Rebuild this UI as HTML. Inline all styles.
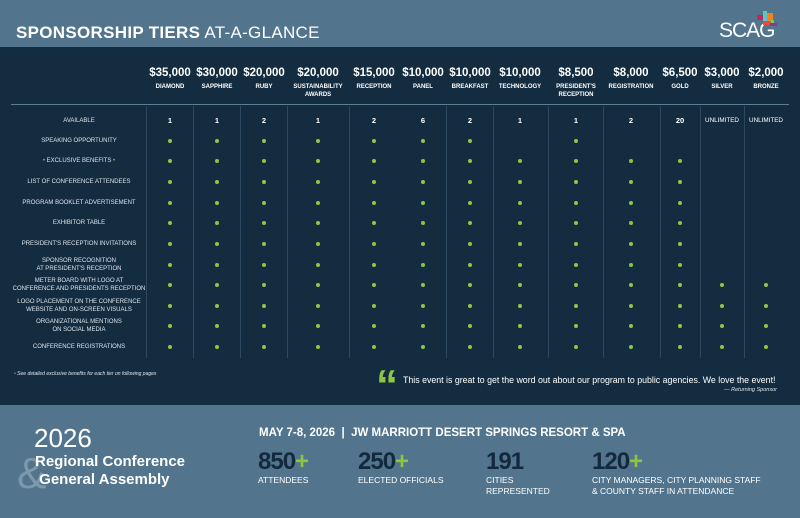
<!DOCTYPE html>
<html><head><meta charset="utf-8"><style>
*{margin:0;padding:0;box-sizing:border-box}
body{width:800px;height:518px;position:relative;overflow:hidden;background:#52758d;font-family:"Liberation Sans",sans-serif;color:#fff}
.abs{position:absolute}
.dark{left:0;top:47px;width:800px;height:358px;background:#132c40}
.c{position:absolute;text-align:center;transform:translateX(-50%);white-space:nowrap}
.price{font-weight:bold;font-size:11.5px;top:67px}
.name{font-weight:bold;font-size:6px;top:83px;line-height:8px}
.lab{font-size:6px;line-height:8px;color:#dde4ea}
.num{font-weight:bold;font-size:7.5px}
.dot{position:absolute;width:4px;height:4px;border-radius:50%;background:#8dc63f}
.vl{position:absolute;top:106px;width:1px;height:252px;background:#2b4a62}
.stat{position:absolute;font-weight:bold;font-size:24px;color:#13293d;top:448px;letter-spacing:-1px}
.stat b{color:#8dc63f}
.sl{position:absolute;font-size:8.5px;top:475px;line-height:11px;color:#fff}
</style></head><body>
<div class="abs" style="left:16px;top:23px;font-size:17px;letter-spacing:0.3px"><b>SPONSORSHIP TIERS</b> <span style="font-weight:normal">AT-A-GLANCE</span></div>
<div class="abs" style="left:719px;top:19px;font-size:21px;letter-spacing:-1px">SCAG</div>
<div class="abs" style="left:757px;top:15px;width:10px;height:5px;background:#c0275d"></div>
<div class="abs" style="left:763px;top:11px;width:4px;height:10px;background:#5fc3d0"></div>
<div class="abs" style="left:767px;top:13px;width:6px;height:8px;background:#f58220"></div>
<div class="abs" style="left:769px;top:20px;width:5px;height:5px;background:#8dc63f"></div>
<div class="abs" style="left:763px;top:21px;width:8px;height:4px;background:#e84b3c"></div>
<div class="abs" style="left:770px;top:23px;width:7px;height:3px;background:#7b3f8c"></div>
<div class="abs dark"></div>
<div class="abs" style="left:11px;top:104px;width:778px;height:1px;background:#5a7d94"></div>
<div id="g"></div>
<div class="abs" style="left:14px;top:371px;font-size:5px;font-style:italic;color:#dde4ea"><span style="color:#8dc63f">•</span> See detailed exclusive benefits for each tier on following pages</div>
<div class="abs" style="left:376px;top:364px;font-size:44px;font-weight:bold;color:#8dc63f;line-height:44px">“</div>
<div class="abs" style="left:403px;top:375px;font-size:8.8px;color:#fff">This event is great to get the word out about our program to public agencies. We love the event!</div>
<div class="abs" style="left:700px;top:387px;width:77px;text-align:right;font-size:5.5px;font-style:italic;color:#dde4ea">— Returning Sponsor</div>
<div class="abs" style="left:17px;top:452px;font-size:44px;color:#7d98ab;line-height:44px">&amp;</div>
<div class="abs" style="left:34px;top:424px;font-size:26px;line-height:28px">2026</div>
<div class="abs" style="left:35px;top:453px;font-size:15px;font-weight:bold;line-height:18px">Regional Conference<br>&nbsp;General Assembly</div>
<div class="abs" style="left:259px;top:427px;font-size:11.5px;font-weight:bold">MAY 7-8, 2026 &nbsp;| &nbsp;JW MARRIOTT DESERT SPRINGS RESORT &amp; SPA</div>
<div class="stat" style="left:258px">850<b>+</b></div>
<div class="stat" style="left:358px">250<b>+</b></div>
<div class="stat" style="left:486px">191</div>
<div class="stat" style="left:592px">120<b>+</b></div>
<div class="sl" style="left:258px">ATTENDEES</div>
<div class="sl" style="left:358px">ELECTED OFFICIALS</div>
<div class="sl" style="left:486px">CITIES<br>REPRESENTED</div>
<div class="sl" style="left:592px">CITY MANAGERS, CITY PLANNING STAFF<br>&amp; COUNTY STAFF IN ATTENDANCE</div>
<script>
var cx=[170,217,264,318,374,423,470,520,576,631,680,722,766];
var pr=["$35,000","$30,000","$20,000","$20,000","$15,000","$10,000","$10,000","$10,000","$8,500","$8,000","$6,500","$3,000","$2,000"];
var nm=["DIAMOND","SAPPHIRE","RUBY","SUSTAINABILITY<br>AWARDS","RECEPTION","PANEL","BREAKFAST","TECHNOLOGY","PRESIDENT'S<br>RECEPTION","REGISTRATION","GOLD","SILVER","BRONZE"];
var av=["1","1","2","1","2","6","2","1","1","2","20","UNLIMITED","UNLIMITED"];
var vx=[146,193,240,287,349,446,493,548,603,660,700,744];
var rows=[["AVAILABLE",120],["SPEAKING OPPORTUNITY",140],["<span style='color:#8dc63f'>•</span> EXCLUSIVE BENEFITS <span style='color:#8dc63f'>•</span>",160],["LIST OF CONFERENCE ATTENDEES",181],["PROGRAM BOOKLET ADVERTISEMENT",202],["EXHIBITOR TABLE",222],["PRESIDENT'S RECEPTION INVITATIONS",243],["SPONSOR RECOGNITION<br>AT PRESIDENT'S RECEPTION",264],["METER BOARD WITH LOGO AT<br>CONFERENCE AND PRESIDENTS RECEPTION",284],["LOGO PLACEMENT ON THE CONFERENCE<br>WEBSITE AND ON-SCREEN VISUALS",305],["ORGANIZATIONAL MENTIONS<br>ON SOCIAL MEDIA",325],["CONFERENCE REGISTRATIONS",346]];
var h="";
vx.forEach(function(x){h+='<div class="vl" style="left:'+x+'px"></div>';});
cx.forEach(function(x,i){h+='<div class="c price" style="left:'+x+'px">'+pr[i]+'</div><div class="c name" style="left:'+x+'px">'+nm[i]+'</div>';
h+='<div class="c num" style="left:'+x+'px;top:116px;'+(i>10?'font-weight:normal;font-size:6.3px;top:117px':'')+'">'+av[i]+'</div>';});
rows.forEach(function(r,k){var ml=r[0].indexOf("<br>")>=0;h+='<div class="c lab" style="left:79px;top:'+(r[1]-(ml?7:3))+'px">'+r[0]+'</div>';
if(k==0)return;var set;
if(k==1)set=[0,1,2,3,4,5,6,8];else if(k<8)set=[0,1,2,3,4,5,6,7,8,9,10];else set=[0,1,2,3,4,5,6,7,8,9,10,11,12];
set.forEach(function(i){h+='<div class="dot" style="left:'+(cx[i]-2)+'px;top:'+(r[1]-1)+'px"></div>';});});
document.getElementById("g").innerHTML=h;
</script>
</body></html>
